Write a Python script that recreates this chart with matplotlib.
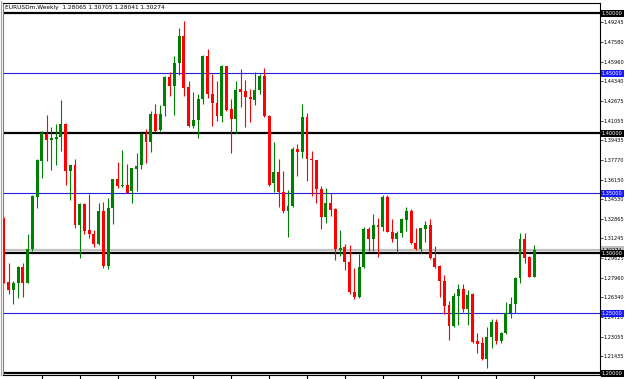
import matplotlib
matplotlib.use("Agg")
import matplotlib.pyplot as plt
import matplotlib.transforms as mtransforms
import numpy as np

# EURUSDm weekly candles
opens = [1.3286, 1.2764, 1.2694, 1.2750, 1.2886, 1.2756, 1.3036, 1.3472, 1.3772, 1.3994,
         1.3947, 1.3956, 1.3972, 1.4075, 1.3686, 1.3736, 1.3236, 1.3411, 1.3194, 1.3161,
         1.3075, 1.3356, 1.2897, 1.3375, 1.3619, 1.3561, 1.3569, 1.3519, 1.3703, 1.3736,
         1.3994, 1.3931, 1.4161, 1.4025, 1.4231, 1.4472, 1.4394, 1.4583, 1.4811, 1.4386,
         1.4061, 1.4111, 1.4283, 1.4647, 1.4328, 1.4256, 1.4147, 1.4561, 1.4203, 1.4119,
         1.4367, 1.4353, 1.4306, 1.4278, 1.4361, 1.4478, 1.4147, 1.3583, 1.3681, 1.3514,
         1.3356, 1.3394, 1.3869, 1.3842, 1.4133, 1.3786, 1.3781, 1.3533, 1.3306, 1.3417,
         1.3369, 1.3028, 1.3056, 1.2931, 1.2681, 1.2639, 1.2889, 1.3203, 1.3119, 1.3236,
         1.3222, 1.3467, 1.3181, 1.3117, 1.3172, 1.3278, 1.3356, 1.3089, 1.3036, 1.3203,
         1.3236, 1.2964, 1.2897, 1.2772, 1.2569, 1.2397, 1.2644, 1.2703, 1.2533, 1.2658,
         1.2267, 1.2256, 1.2119, 1.2306, 1.2431, 1.2272, 1.2333, 1.2503, 1.2578, 1.2792,
         1.3117, 1.2967, 1.28065]
highs = [1.3300, 1.2922, 1.2772, 1.2897, 1.2917, 1.3161, 1.3486, 1.3786, 1.4019, 1.4153,
         1.4050, 1.4078, 1.4278, 1.4083, 1.3739, 1.3786, 1.3417, 1.3417, 1.3492, 1.3194,
         1.3417, 1.3431, 1.3458, 1.3619, 1.3764, 1.3861, 1.3744, 1.3708, 1.3836, 1.4000,
         1.4033, 1.4186, 1.4244, 1.4236, 1.4478, 1.4514, 1.4644, 1.4875, 1.4936, 1.4439,
         1.4342, 1.4328, 1.4653, 1.4700, 1.4494, 1.4439, 1.4569, 1.4561, 1.4283, 1.4439,
         1.4533, 1.4444, 1.4369, 1.4508, 1.4492, 1.4542, 1.4153, 1.3931, 1.3786, 1.3686,
         1.3528, 1.3883, 1.3911, 1.4242, 1.4167, 1.3853, 1.3781, 1.3564, 1.3547, 1.3500,
         1.3381, 1.3194, 1.3078, 1.3069, 1.2881, 1.2992, 1.3217, 1.3222, 1.3325, 1.3292,
         1.3486, 1.3486, 1.3286, 1.3186, 1.3297, 1.3383, 1.3367, 1.3214, 1.3214, 1.3269,
         1.3283, 1.3061, 1.2903, 1.2819, 1.2603, 1.2667, 1.2744, 1.2742, 1.2694, 1.2667,
         1.2333, 1.2306, 1.2389, 1.2453, 1.2453, 1.2342, 1.2592, 1.2633, 1.2806, 1.3172,
         1.3172, 1.2978, 1.30705]
lows = [1.2750, 1.2664, 1.2581, 1.2625, 1.2639, 1.2750, 1.3019, 1.3381, 1.3631, 1.3772,
        1.3694, 1.3736, 1.3856, 1.3569, 1.3444, 1.3208, 1.2964, 1.3161, 1.3131, 1.3056,
        1.3069, 1.2875, 1.2869, 1.3242, 1.3542, 1.3553, 1.3500, 1.3422, 1.3522, 1.3700,
        1.3750, 1.3847, 1.4008, 1.4019, 1.4147, 1.4311, 1.4153, 1.4486, 1.4311, 1.4056,
        1.4042, 1.3964, 1.4242, 1.4297, 1.4064, 1.4103, 1.4097, 1.4189, 1.3833, 1.4006,
        1.4222, 1.4056, 1.4097, 1.4236, 1.4328, 1.4139, 1.3564, 1.3514, 1.3383, 1.3333,
        1.3139, 1.3389, 1.3644, 1.3792, 1.3606, 1.3478, 1.3422, 1.3200, 1.3256, 1.3311,
        1.2944, 1.2981, 1.2861, 1.2661, 1.2619, 1.2625, 1.2881, 1.3019, 1.3019, 1.2972,
        1.3186, 1.3175, 1.3097, 1.3006, 1.3133, 1.3186, 1.3078, 1.3028, 1.3006, 1.3097,
        1.2950, 1.2875, 1.2639, 1.2494, 1.2281, 1.2389, 1.2403, 1.2514, 1.2403, 1.2256,
        1.2167, 1.2111, 1.2042, 1.2214, 1.2244, 1.2250, 1.2328, 1.2464, 1.2500, 1.2750,
        1.2917, 1.2803, 1.28041]
closes = [1.2756, 1.2694, 1.2756, 1.2883, 1.2756, 1.3036, 1.3478, 1.3775, 1.4000, 1.3947,
          1.3961, 1.3972, 1.4075, 1.3686, 1.3736, 1.3236, 1.3411, 1.3186, 1.3161, 1.3075,
          1.3356, 1.2897, 1.3381, 1.3619, 1.3564, 1.3572, 1.3506, 1.3708, 1.3731, 1.3994,
          1.3925, 1.4161, 1.4022, 1.4158, 1.4472, 1.4394, 1.4583, 1.4811, 1.4381, 1.4061,
          1.4111, 1.4286, 1.4647, 1.4328, 1.4256, 1.4147, 1.4561, 1.4194, 1.4119, 1.4361,
          1.4347, 1.4306, 1.4283, 1.4361, 1.4478, 1.4144, 1.3569, 1.3675, 1.3514, 1.3356,
          1.3394, 1.3869, 1.3842, 1.4133, 1.3783, 1.3781, 1.3533, 1.3306, 1.3417, 1.3361,
          1.3033, 1.3044, 1.2931, 1.2675, 1.2639, 1.2889, 1.3203, 1.3119, 1.3236, 1.3222,
          1.3467, 1.3181, 1.3119, 1.3172, 1.3286, 1.3356, 1.3083, 1.3033, 1.3208, 1.3236,
          1.2958, 1.2889, 1.2772, 1.2564, 1.2397, 1.2644, 1.2703, 1.2533, 1.2653, 1.2264,
          1.2244, 1.2119, 1.2306, 1.2431, 1.2272, 1.2333, 1.2506, 1.2578, 1.2797, 1.3117,
          1.2964, 1.2806, 1.30274]

black_levels = [1.50, 1.40, 1.30, 1.20]
blue_levels = [1.45, 1.35, 1.25]
bid = 1.30274
tick_prices = [1.49245, 1.47580, 1.45960, 1.44340, 1.42675, 1.41055, 1.39435, 1.37770,
               1.36150, 1.34530, 1.32865, 1.31245, 1.29625, 1.27960, 1.26340, 1.24720,
               1.23055, 1.21435]
title = "EURUSDm,Weekly  1.28065 1.30705 1.28041 1.30274"

W, H = 625, 379
fig = plt.figure(figsize=(W / 100, H / 100), dpi=100)
fig.patch.set_facecolor("white")
ax = fig.add_axes([3 / W, 4 / H, 597 / W, 372 / H])
ax.set_facecolor("white")

o = np.array(opens)
h = np.array(highs)
l = np.array(lows)
c = np.array(closes)
x = np.arange(len(o))
up = c >= o
cols = np.where(up, "#008000", "#ff0000")

# wicks then bodies
ax.vlines(x, l, h, colors=cols, linewidth=0.8, zorder=3)
bottoms = np.minimum(o, c)
heights = np.maximum(np.abs(c - o), 0.0004)
ax.bar(x, heights, bottom=bottoms, width=0.62, color=cols, linewidth=0, zorder=4)

# level lines
ax.axhline(bid, color="#c0c0c0", linewidth=1.6, zorder=2)
for lv in black_levels:
    ax.axhline(lv, color="black", linewidth=1.6, zorder=2)
for lv in blue_levels:
    ax.axhline(lv, color="#2020e0", linewidth=0.8, zorder=2)

ax.set_xlim(-0.21, 125.9)
ax.set_ylim(1.1986, 1.5086)

# right price scale
ax.yaxis.tick_right()
ax.set_yticks(tick_prices)
ax.set_yticklabels([f"{p:.5f}" for p in tick_prices])
ax.tick_params(axis="y", labelsize=3.6, length=1.8, width=0.5, pad=0.8, colors="black")
ax.set_xticks(np.arange(8, len(o), 8))
ax.set_xticklabels([])
ax.tick_params(axis="x", length=4, width=0.8, direction="out")

for side in ["top", "right", "bottom"]:
    ax.spines[side].set_color("black")
    ax.spines[side].set_linewidth(0.8)
ax.spines["left"].set_color("#808080")
ax.spines["left"].set_linewidth(0.8)
fig.add_artist(plt.Line2D([1 / W, 1 / W], [4 / H, 1 - 1 / H], color="#a0a0a0", linewidth=0.8))

# boxed labels for the levels
tr = mtransforms.blended_transform_factory(ax.transAxes, ax.transData)
box_kw = dict(transform=tr, fontsize=3.6, va="center", ha="left", clip_on=False)
ax.text(1.003, bid, f"{bid:.5f}", color="black",
        bbox=dict(boxstyle="square,pad=0.25", fc="#c0c0c0", ec="none"), **box_kw)
for lv in black_levels:
    ax.text(1.003, lv, f"{lv:.5f}", color="white",
            bbox=dict(boxstyle="square,pad=0.25", fc="black", ec="none"), **box_kw)
for lv in blue_levels:
    ax.text(1.003, lv, f"{lv:.5f}", color="white",
            bbox=dict(boxstyle="square,pad=0.25", fc="#1a1aff", ec="none"), **box_kw)

fig.text(5 / W, 1 - 7.5 / H, title, fontsize=4.2, color="black", va="center", ha="left")

fig.savefig("out.png", dpi=100)
